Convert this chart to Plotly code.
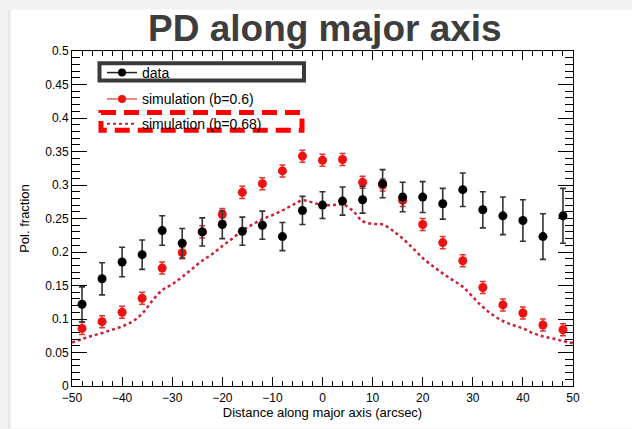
import plotly.graph_objects as go

# ---------------- data ----------------
x_pts = [-48, -44, -40, -36, -32, -28, -24, -20, -16, -12, -8, -4,
         0, 4, 8, 12, 16, 20, 24, 28, 32, 36, 40, 44, 48]

data_y = [0.122, 0.160, 0.185, 0.196, 0.232, 0.213, 0.230, 0.241, 0.231, 0.240, 0.223, 0.262,
          0.270, 0.276, 0.278, 0.302, 0.282, 0.282, 0.272, 0.293, 0.263, 0.254, 0.247, 0.223, 0.254]
data_err = [0.026, 0.024, 0.022, 0.022, 0.022, 0.022, 0.021, 0.021, 0.021, 0.021, 0.021, 0.021,
            0.020, 0.021, 0.020, 0.021, 0.022, 0.023, 0.023, 0.025, 0.027, 0.028, 0.031, 0.034, 0.041]

sim6_y = [0.086, 0.096, 0.110, 0.131, 0.176, 0.199, 0.230, 0.256, 0.289, 0.302, 0.321, 0.343,
          0.337, 0.338, 0.304, 0.300, 0.277, 0.241, 0.214, 0.187, 0.147, 0.121, 0.109, 0.091, 0.084]
sim6_err = [0.009] * 25

curve_x = list(range(-50, 51, 2))
sim68_y = [0.065, 0.070, 0.075, 0.079, 0.084, 0.089, 0.096, 0.108, 0.127, 0.143,
           0.152, 0.163, 0.175, 0.187, 0.197, 0.209, 0.220, 0.232, 0.241, 0.249,
           0.255, 0.262, 0.270, 0.277, 0.274, 0.270, 0.270, 0.271, 0.262, 0.246,
           0.242, 0.241, 0.232, 0.220, 0.206, 0.191, 0.179, 0.168, 0.158, 0.148,
           0.133, 0.118, 0.106, 0.097, 0.091, 0.086, 0.079, 0.074, 0.071, 0.067, 0.064]

names = ["data", "simulation (b=0.6)", "simulation (b=0.68)"]

# ---------------- layout geometry ----------------
W, H = 632, 429
L, R, T, B = 72, 59, 51, 38
PW, PH = W - L - R, H - T - B


def px(xp):
    return (xp - L) / PW


def py(yp):
    return (H - B - yp) / PH


FONT = "Liberation Sans, Arial, Helvetica, sans-serif"
RED = "#ee1111"
DOT = "#cc2036"

fig = go.Figure()

# background "slide" white area
fig.add_shape(type="rect", xref="paper", yref="paper", layer="below",
              x0=px(8), x1=px(W + 5), y0=py(9), y1=py(H + 5),
              fillcolor="white", line=dict(width=0))
for i, c in enumerate(["#e4e4e4", "#eaeaea", "#f0f0f0"]):
    fig.add_shape(type="rect", xref="paper", yref="paper", layer="below",
                  x0=px(8 + i), x1=px(9 + i), y0=py(9), y1=py(H + 5),
                  fillcolor=c, line=dict(width=0))

fig.add_trace(go.Scatter(
    x=curve_x, y=sim68_y, mode="lines", line=dict(color=DOT, width=2.5, dash="dot", shape="spline"),
    showlegend=False, hoverinfo="skip"))

fig.add_trace(go.Scatter(
    x=x_pts, y=sim6_y, mode="markers",
    marker=dict(color=RED, size=9),
    error_y=dict(type="data", array=sim6_err, color="#e03535", thickness=1.5, width=3),
    showlegend=False))

fig.add_trace(go.Scatter(
    x=x_pts, y=data_y, mode="markers",
    marker=dict(color="black", size=9),
    error_y=dict(type="data", array=data_err, color="#333333", thickness=1.6, width=3),
    showlegend=False))

# legend entries
leg_rows = [73.3, 100.0, 125.3]
leg_styles = [
    dict(mode="lines+markers", line=dict(color="#222222", width=1.5), marker=dict(color="black", size=8)),
    dict(mode="lines+markers", line=dict(color="#e06060", width=1.5), marker=dict(color=RED, size=8)),
    dict(mode="lines", line=dict(color=DOT, width=2, dash="dot")),
]
leg_keys = ["legend", "legend2", "legend3"]
for nm, st, key in zip(names, leg_styles, leg_keys):
    fig.add_trace(go.Scatter(x=[None], y=[None], name=nm, legend=key, showlegend=True, **st))

leg_common = dict(x=px(102), xanchor="left", yanchor="middle", bgcolor="rgba(0,0,0,0)",
                  borderwidth=0, font=dict(family=FONT, size=14, color="black"),
                  itemwidth=30, tracegroupgap=0)
layout_legs = {}
for key, row in zip(leg_keys, leg_rows):
    layout_legs[key] = dict(y=py(row), **leg_common)

# boxes around legend entries
fig.add_shape(type="rect", xref="paper", yref="paper",
              x0=px(99.5), x1=px(304), y0=py(63.5), y1=py(81),
              line=dict(color="#3a3a3a", width=4), fillcolor="rgba(0,0,0,0)")
fig.add_shape(type="rect", xref="paper", yref="paper",
              x0=px(101), x1=px(302), y0=py(113.5), y1=py(131.5),
              line=dict(color="#ff0000", width=5, dash="15px,8px"), fillcolor="rgba(0,0,0,0)")

# title
fig.add_annotation(text="<b>PD along major axis</b>", xref="paper", yref="paper",
                   x=px(325), y=py(28), xanchor="center", yanchor="middle", showarrow=False,
                   font=dict(family=FONT, size=37, color="#3d3d3d"))

axis_common = dict(showgrid=False, zeroline=False, showline=True, linecolor="black", linewidth=1,
                   mirror="allticks", ticks="inside", tickcolor="black", tickwidth=1,
                   tickfont=dict(family=FONT, size=12, color="black"))

fig.update_layout(
    width=W, height=H,
    margin=dict(l=L, r=R, t=T, b=B),
    paper_bgcolor="#f2f2f2",
    plot_bgcolor="white",
    xaxis=dict(range=[-50, 50], dtick=10, tick0=-50, ticklen=9,
               minor=dict(dtick=2, ticklen=5, ticks="inside", tickcolor="black"),
               title=dict(text="Distance along major axis (arcsec)", standoff=2,
                          font=dict(family=FONT, size=13, color="black")),
               ticklabelstandoff=1,
               tickformat="d", **axis_common),
    yaxis=dict(range=[0, 0.5], dtick=0.05, tick0=0, ticklen=15,
               minor=dict(dtick=0.01, ticklen=8, ticks="inside", tickcolor="black"),
               title=dict(text="Pol. fraction", standoff=12,
                          font=dict(family=FONT, size=13, color="black")),
               **axis_common),
    **layout_legs,
)

fig.write_html("out.html")
